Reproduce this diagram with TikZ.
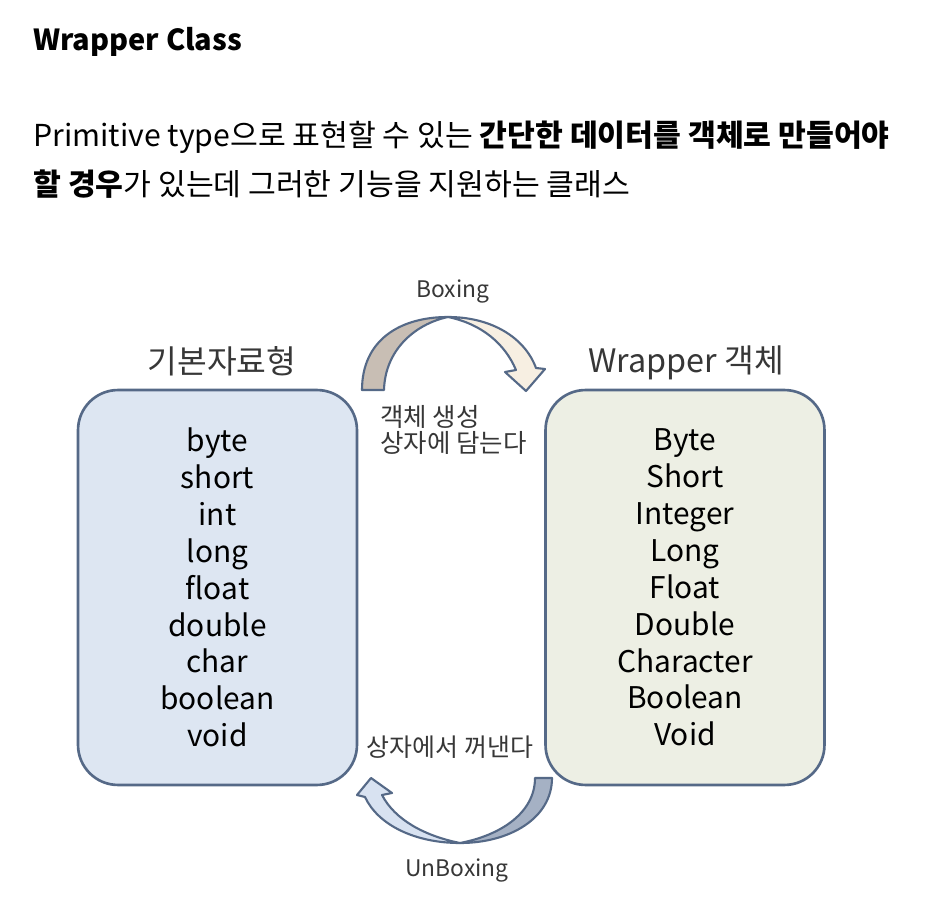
\documentclass[tikz,border=0pt]{standalone}
\usepackage{fontspec}
\setmainfont{Noto Sans CJK KR}
\usetikzlibrary{positioning}
\definecolor{boxline}{RGB}{85,105,135}
\definecolor{primfill}{RGB}{221,230,242}
\definecolor{wrapfill}{RGB}{237,239,228}
\definecolor{boxtan}{RGB}{200,190,180}
\definecolor{boxcream}{RGB}{247,239,226}
\definecolor{undark}{RGB}{165,177,196}
\definecolor{unlight}{RGB}{216,226,241}
\definecolor{labelgray}{RGB}{55,55,55}

\begin{document}
\begin{tikzpicture}[x=0.02cm,y=-0.02cm,
    typebox/.style={draw=boxline, line width=1.5pt, rounded corners=0.8cm,
      minimum width=5.58cm, minimum height=7.9cm, align=center,
      font=\fontsize{17}{21}\selectfont},
    boxhead/.style={font=\fontsize{18.4}{20}\selectfont, text=labelgray},
    arrowlabel/.style={font=\fontsize{13}{15}\selectfont, text=labelgray},
    bentarrow/.style={draw=boxline, line width=1.2pt, line join=round}]
        \useasboundingbox[fill=white] (0,0) rectangle (930,912);
        %Header
        \node (title) [anchor=base west, inner sep=0, font=\bfseries\fontsize{16.5}{18}\selectfont] at (33,51) {Wrapper Class};
        \node (line1) [anchor=base west, inner sep=0, font=\fontsize{17.2}{18}\selectfont] at (33,147)
          {Primitive type으로 표현할 수 있는 \textbf{간단한 데이터를 객체로 만들어야}};
        \node (line2) [anchor=base west, inner sep=0, font=\fontsize{17.2}{18}\selectfont] at (33,196)
          {\textbf{할 경우}가 있는데 그러한 기능을 지원하는 클래스};
        %Boxes
        \node (prim) [typebox, fill=primfill] at (217.5,587.5)
          {byte\\short\\int\\long\\float\\double\\char\\boolean\\void};
        \node (wrap) [typebox, fill=wrapfill] at (685,587.5)
          {Byte\\Short\\Integer\\Long\\Float\\Double\\Character\\Boolean\\Void};
        \node (primhead) [boxhead] at (222,361) {기본자료형};
        \node (wraphead) [boxhead] at (686,363) {Wrapper 객체};
        %Boxing arrow
        \filldraw[bentarrow, fill=boxtan] (362,390) .. controls (362,340) and (400,317) .. (448,317)
          .. controls (415,324) and (385,350) .. (384,390) -- cycle;
        \filldraw[bentarrow, fill=boxcream] (448,317) .. controls (492,317) and (525,338) .. (536,368)
          -- (545,369) -- (526,391) -- (505,372) -- (516,370)
          .. controls (505,344) and (482,324) .. (448,317) -- cycle;
        %UnBoxing arrow
        \filldraw[bentarrow, fill=undark] (552,778) .. controls (552,818) and (510,843) .. (460,843)
          .. controls (502,835) and (535,812) .. (535,778) -- cycle;
        \filldraw[bentarrow, fill=unlight] (460,843) .. controls (415,843) and (378,825) .. (365,797)
          -- (357,795) -- (371,778) -- (392,793) -- (382,795)
          .. controls (395,820) and (425,836) .. (460,843) -- cycle;
        %Labels
        \node (boxing) [arrowlabel] at (453,292) {Boxing};
        \node (unboxing) [arrowlabel] at (457,870) {UnBoxing};
        \node (boxnote) [arrowlabel, anchor=west, align=left, font=\fontsize{14.5}{14.7}\selectfont] at (374,430)
          {객체 생성\\상자에 담는다};
        \node (unboxnote) [arrowlabel, font=\fontsize{14.2}{15}\selectfont] at (450,747) {상자에서 꺼낸다};
      \end{tikzpicture}
\end{document}
